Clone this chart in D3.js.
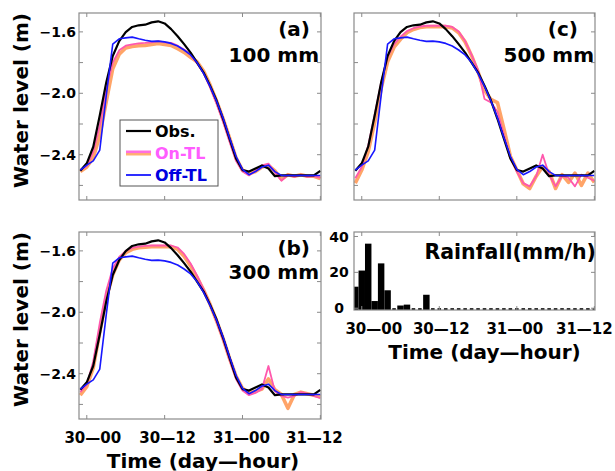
<!DOCTYPE html>
<html>
<head>
<meta charset="utf-8">
<script src="https://cdnjs.cloudflare.com/ajax/libs/d3/7.8.5/d3.min.js"></script>
<style>
  body { margin: 0; background: #fff; }
  svg { display: block; font-family: "DejaVu Sans", sans-serif; font-weight: bold; }
</style>
</head>
<body>
<svg id="chart" width="615" height="471"></svg>
<script>
// hours after 30-00
var hours = [-1, 0, 1, 2, 3, 4, 5, 6, 7, 8, 9, 10, 11, 12, 13, 14, 15, 16, 17, 18,
             19, 20, 21, 22, 23, 24, 25, 26, 27, 28, 29, 30, 31, 32, 33, 34, 35, 36];

var obs = [-2.505, -2.456, -2.348, -2.144, -1.929, -1.757, -1.66, -1.602, -1.568, -1.557,
           -1.553, -1.538, -1.531, -1.545, -1.582, -1.628, -1.68, -1.735, -1.80, -1.865,
           -1.95, -2.047, -2.166, -2.295, -2.424, -2.50, -2.51, -2.49, -2.47, -2.49,
           -2.54, -2.535, -2.535, -2.535, -2.535, -2.535, -2.535, -2.505];

var offTL = [-2.50, -2.468, -2.44, -2.37, -2.015, -1.68, -1.645, -1.639, -1.634, -1.645,
             -1.655, -1.662, -1.66, -1.665, -1.675, -1.692, -1.718, -1.75, -1.80, -1.87,
             -1.955, -2.05, -2.16, -2.29, -2.41, -2.495, -2.53, -2.51, -2.48, -2.468,
             -2.51, -2.535, -2.535, -2.535, -2.535, -2.535, -2.535, -2.535];

// On-TL, 100 mm
var onPinkA = [-2.50, -2.473, -2.38, -2.21, -1.97, -1.80, -1.72, -1.69, -1.682, -1.675,
               -1.672, -1.668, -1.66, -1.668, -1.672, -1.69, -1.715, -1.748, -1.805, -1.87,
               -1.962, -2.068, -2.185, -2.315, -2.44, -2.51, -2.535, -2.505, -2.47, -2.458,
               -2.515, -2.57, -2.53, -2.545, -2.53, -2.545, -2.54, -2.55];
var onOrangeA = [-2.51, -2.48, -2.42, -2.275, -2.055, -1.84, -1.745, -1.705, -1.695, -1.69,
                 -1.688, -1.682, -1.675, -1.682, -1.688, -1.71, -1.733, -1.765, -1.795, -1.855,
                 -1.945, -2.05, -2.165, -2.29, -2.42, -2.50, -2.525, -2.51, -2.48, -2.47,
                 -2.505, -2.56, -2.53, -2.54, -2.53, -2.54, -2.54, -2.555];

// On-TL, 300 mm
var onPinkB = [-2.52, -2.47, -2.32, -2.07, -1.86, -1.715, -1.64, -1.60, -1.58, -1.572,
               -1.568, -1.565, -1.565, -1.565, -1.565, -1.578, -1.62, -1.682, -1.762, -1.85,
               -1.948, -2.062, -2.18, -2.31, -2.435, -2.51, -2.54, -2.525, -2.50, -2.35,
               -2.515, -2.545, -2.555, -2.545, -2.52, -2.53, -2.545, -2.56];
var onOrangeB = [-2.54, -2.485, -2.36, -2.13, -1.91, -1.755, -1.66, -1.612, -1.59, -1.58,
                 -1.576, -1.572, -1.572, -1.572, -1.572, -1.59, -1.635, -1.698, -1.772, -1.855,
                 -1.948, -2.055, -2.17, -2.30, -2.415, -2.495, -2.525, -2.515, -2.50, -2.434,
                 -2.505, -2.535, -2.625, -2.535, -2.52, -2.53, -2.54, -2.55];

// On-TL, 500 mm
var onPinkC = [-2.553, -2.48, -2.34, -2.14, -1.93, -1.765, -1.68, -1.632, -1.595, -1.576,
               -1.565, -1.56, -1.56, -1.56, -1.56, -1.568, -1.598, -1.66, -1.75, -1.85,
               -2.037, -2.06, -2.12, -2.27, -2.42, -2.51, -2.585, -2.606, -2.54, -2.40,
               -2.53, -2.606, -2.54, -2.55, -2.606, -2.53, -2.55, -2.57];
var onOrangeC = [-2.585, -2.50, -2.38, -2.19, -1.97, -1.795, -1.70, -1.648, -1.605, -1.584,
                 -1.572, -1.567, -1.566, -1.566, -1.566, -1.574, -1.606, -1.665, -1.755, -1.86,
                 -1.98, -2.04, -2.06, -2.23, -2.41, -2.50, -2.59, -2.62, -2.54, -2.477,
                 -2.51, -2.62, -2.53, -2.58, -2.52, -2.60, -2.52, -2.58];

// mm/h
var rainfall = [12, 21, 36, 4, 25, 10, 0, 1.5, 2, 0, 0, 7.5, 0, 0, 0, 0, 0, 0, 0, 0,
                0, 0, 0, 0, 0, 0, 0, 0, 0, 0, 0, 0, 0, 0, 0, 0, 0, 0];

var xTicks = [0, 12, 24, 36];
var xTickLabels = ["30\u201400", "30\u201412", "31\u201400", "31\u201412"];
var yTicks = [-1.6, -1.8, -2.0, -2.2, -2.4, -2.6];
var yTickLabels = [-1.6, -2.0, -2.4];
var rainTicks = [0, 20, 40];

var svg = d3.select("#chart");
var frameColor = "#8a8a8a";
var tickLen = 4;

function addClip(id, b) {
  svg.append("clipPath")
      .attr("id", id)
    .append("rect")
      .attr("x", b.x0)
      .attr("y", b.y0)
      .attr("width", b.x1 - b.x0)
      .attr("height", b.y1 - b.y0);
}

function drawFrame(g, b, x, y, yt) {
  g.append("rect")
      .attr("x", b.x0)
      .attr("y", b.y0)
      .attr("width", b.x1 - b.x0)
      .attr("height", b.y1 - b.y0)
      .attr("fill", "none")
      .attr("stroke", frameColor)
      .attr("stroke-width", 1.2);

  xTicks.forEach(function(t) {
    [[b.y0, tickLen], [b.y1, -tickLen]].forEach(function(s) {
      g.append("line")
          .attr("x1", x(t)).attr("x2", x(t))
          .attr("y1", s[0]).attr("y2", s[0] + s[1])
          .attr("stroke", frameColor);
    });
  });

  yt.forEach(function(t) {
    [[b.x0, tickLen], [b.x1, -tickLen]].forEach(function(s) {
      g.append("line")
          .attr("y1", y(t)).attr("y2", y(t))
          .attr("x1", s[0]).attr("x2", s[0] + s[1])
          .attr("stroke", frameColor);
    });
  });
}

function drawXLabels(g, b, x, shifts) {
  g.selectAll(".xlab")
      .data(xTicks)
      .enter()
    .append("text")
      .attr("x", (d, i) => x(d) + shifts[i])
      .attr("y", b.y1 + 24)
      .attr("text-anchor", "middle")
      .attr("font-size", 15)
      .text((d, i) => xTickLabels[i]);

  g.append("text")
      .attr("x", (b.x0 + b.x1) / 2 + (shifts === rainShift ? 10 : 3))
      .attr("y", b.y1 + 49)
      .attr("text-anchor", "middle")
      .attr("font-size", 20)
      .text("Time (day\u2014hour)");
}

var bShift = [6, 3, -1, -6];
var rainShift = [12, 2, -2, -10];

var panels = [
  {id: "a", box: {x0: 79, x1: 321, y0: 13, y1: 200}, pink: onPinkA, orange: onOrangeA,
   tag: "(a)", depth: "100 mm", tagEnd: 310, depthEnd: 319, tagY: 36, depthY: 62},
  {id: "c", box: {x0: 354, x1: 595, y0: 13, y1: 200}, pink: onPinkC, orange: onOrangeC,
   tag: "(c)", depth: "500 mm", tagEnd: 578, depthEnd: 594, tagY: 36, depthY: 62},
  {id: "b", box: {x0: 79, x1: 321, y0: 232, y1: 419}, pink: onPinkB, orange: onOrangeB,
   tag: "(b)", depth: "300 mm", tagEnd: 310, depthEnd: 319, tagY: 255, depthY: 279}
];

panels.forEach(function(p) {
  var b = p.box;
  var x = d3.scaleLinear().domain([-1.2, 36.1]).range([b.x0, b.x1]);
  var y = d3.scaleLinear().domain([-2.695, -1.477]).range([b.y1, b.y0]);
  var g = svg.append("g").attr("class", "panel-" + p.id);

  addClip("clip-" + p.id, b);

  var line = d3.line()
                 .x((d, i) => x(hours[i]))
                 .y(d => y(d));

  var lines = g.append("g").attr("clip-path", "url(#clip-" + p.id + ")");
  var series = [
    {v: p.orange, c: "#ffa468", w: 3.6},
    {v: p.pink, c: "#ff58ad", w: 1.8},
    {v: obs, c: "#000", w: 2.2},
    {v: offTL, c: "#1717ff", w: 1.6}
  ];
  series.forEach(function(s) {
    lines.append("path")
        .attr("d", line(s.v))
        .attr("fill", "none")
        .attr("stroke", s.c)
        .attr("stroke-width", s.w)
        .attr("stroke-linejoin", "round");
  });

  drawFrame(g, b, x, y, yTicks);

  g.selectAll(".ylab")
      .data(yTickLabels)
      .enter()
    .append("text")
      .attr("x", b.x0 - 3)
      .attr("y", d => y(d))
      .attr("dy", "0.36em")
      .attr("text-anchor", "end")
      .attr("font-size", 14)
      .text(d => d3.format(".1f")(d));

  g.append("text")
      .attr("transform", "translate(" + (b.x0 - 51) + "," + ((b.y0 + b.y1) / 2 - 6) + ") rotate(-90)")
      .attr("text-anchor", "middle")
      .attr("font-size", 20)
      .text("Water level (m)");

  if (p.id === "c") {
    // no y title on the right column
    g.select("text:last-child").remove();
    g.selectAll("text").filter(function() { return +d3.select(this).attr("x") === b.x0 - 3; }).remove();
  }

  g.append("text")
      .attr("x", p.tagEnd)
      .attr("y", p.tagY)
      .attr("text-anchor", "end")
      .attr("font-size", 20)
      .text(p.tag);

  g.append("text")
      .attr("x", p.depthEnd)
      .attr("y", p.depthY)
      .attr("text-anchor", "end")
      .attr("font-size", 20)
      .text(p.depth);

  if (p.id === "b") drawXLabels(g, b, x, bShift);
});

// legend in panel (a)
var legend = svg.append("g").attr("class", "legend");
legend.append("rect")
    .attr("x", 120).attr("y", 120)
    .attr("width", 98).attr("height", 66)
    .attr("fill", "#fff")
    .attr("stroke", "#555")
    .attr("stroke-width", 1);

var legendItems = [
  {name: "Obs.", c: "#000", lines: [{c: "#000", w: 2.2, dy: 0}]},
  {name: "On-TL", c: "#ff5cff", lines: [{c: "#ffb070", w: 2.6, dy: 1.2}, {c: "#ff6fe0", w: 2.6, dy: -1.2}]},
  {name: "Off-TL", c: "#0000e0", lines: [{c: "#1717ff", w: 1.8, dy: 0}]}
];
var legendY = [131, 153, 175];
legendItems.forEach(function(d, i) {
  d.lines.forEach(function(l) {
    legend.append("line")
        .attr("x1", 126).attr("x2", 151)
        .attr("y1", legendY[i] + l.dy).attr("y2", legendY[i] + l.dy)
        .attr("stroke", l.c)
        .attr("stroke-width", l.w);
  });
  legend.append("text")
      .attr("x", 155)
      .attr("y", legendY[i])
      .attr("dy", "0.36em")
      .attr("font-size", 16)
      .attr("fill", d.c)
      .text(d.name);
});

// rainfall panel
var rb = {x0: 354, x1: 595, y0: 232, y1: 310};
var rx = d3.scaleLinear().domain([-1.2, 36.1]).range([rb.x0, rb.x1]);
var ry = d3.scaleLinear().domain([-1, 42.5]).range([rb.y1, rb.y0]);
var rg = svg.append("g").attr("class", "panel-rain");
var step = rx(1) - rx(0);

addClip("clip-rain", rb);

rg.append("g")
    .attr("clip-path", "url(#clip-rain)")
  .selectAll(".bar")
    .data(rainfall)
    .enter()
  .append("rect")
    .classed("bar", true)
    .attr("x", (d, i) => rx(hours[i]) - (d > 0 ? step : step * 0.55) / 2)
    .attr("width", d => d > 0 ? step : step * 0.55)
    .attr("y", d => ry(d))
    .attr("height", d => ry.range()[0] - ry(d))
    .attr("fill", "#000");

drawFrame(rg, rb, rx, ry, rainTicks);

rg.selectAll(".ylab")
    .data(rainTicks)
    .enter()
  .append("text")
    .attr("x", rb.x0 - 15)
    .attr("y", d => ry(d))
    .attr("dy", "0.36em")
    .attr("text-anchor", "middle")
    .attr("font-size", 14)
    .text(d => d);

rg.append("text")
    .attr("x", rb.x1 + 1)
    .attr("y", 259)
    .attr("text-anchor", "end")
    .attr("font-size", 20.5)
    .text("Rainfall(mm/h)");

drawXLabels(rg, rb, rx, rainShift);
</script>
</body>
</html>
